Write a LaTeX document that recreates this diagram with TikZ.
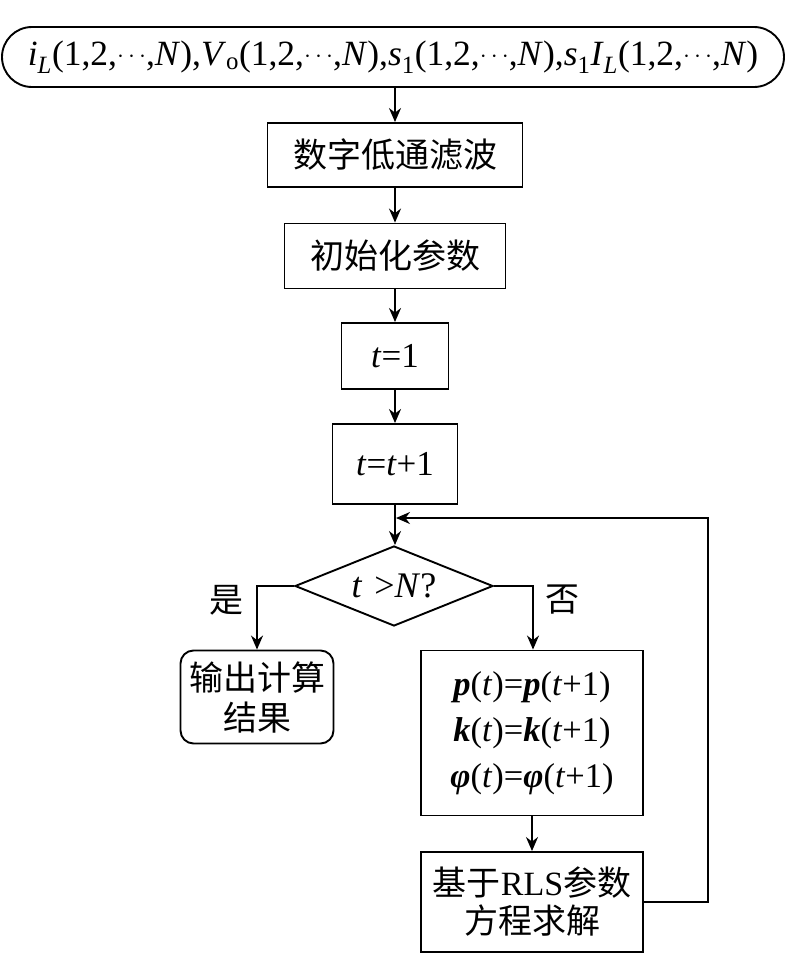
\documentclass[tikz,border=0pt]{standalone}
\usepackage{fontspec}
\setmainfont{Liberation Serif}
\newfontfamily\cjk{Noto Sans CJK SC}
\usetikzlibrary{shapes.geometric,arrows.meta}
\tikzset{
  box/.style={draw, line width=1.9pt, rectangle, inner sep=0pt, align=center},
  rbox/.style={box, rounded corners=13pt},
  arr/.style={line width=1.9pt, -{Stealth[length=14pt,width=12pt]}},
  big/.style={font=\fontsize{34}{42}\selectfont},
  lat/.style={font=\fontsize{35}{40}\selectfont},
}
\begin{document}
\begin{tikzpicture}[x=1pt,y=-1pt]
\useasboundingbox (0,0) rectangle (788,954);
\node[box, rounded corners=30pt, minimum width=782pt, minimum height=60pt, font=\fontsize{35.5}{40}\selectfont] (in) at (393,57)
  {\textit{i}\textsubscript{\textit{L}}(1,2,\raisebox{3pt}{$\cdots$},\textit{N}),\textit{V}\textsubscript{o}(1,2,\raisebox{3pt}{$\cdots$},\textit{N}),\textit{s}\textsubscript{1}(1,2,\raisebox{3pt}{$\cdots$},\textit{N}),\textit{s}\textsubscript{1}\textit{I}\textsubscript{\textit{L}}(1,2,\raisebox{3pt}{$\cdots$},\textit{N})};
\node[box, big, minimum width=255pt, minimum height=64pt] (f) at (395,155) {\cjk 数字低通滤波};
\node[box, big, minimum width=221pt, minimum height=65pt] (init) at (395,256) {\cjk 初始化参数};
\node[box, lat, minimum width=107pt, minimum height=66pt] (t1) at (395,356) {\textit{t}=1};
\node[box, lat, minimum width=125pt, minimum height=80pt] (tt) at (395,464) {\textit{t}=\textit{t}+1};
\node[diamond, draw, line width=1.9pt, inner sep=0pt, minimum width=198pt, minimum height=80pt, aspect=2.475] (d) at (394,586) {};
\node[font=\fontsize{36}{40}\selectfont] (dt) at (d.center) {\textit{t}\,\,>\textit{N}?};
\node[rbox, big, minimum width=153pt, minimum height=93pt] (out) at (257,697) {\cjk 输出计算\\[-2pt]\cjk 结果};
\node[box, minimum width=222pt, minimum height=165pt, font=\fontsize{34.5}{46}\selectfont] (p) at (532,733)
  {\textbf{\textit{p}}(\textit{t})=\textbf{\textit{p}}(\textit{t}+1)\\
   \textbf{\textit{k}}(\textit{t})=\textbf{\textit{k}}(\textit{t}+1)\\
   \textbf{\textit{φ}}(\textit{t})=\textbf{\textit{φ}}(\textit{t}+1)};
\node[box, big, minimum width=222pt, minimum height=100pt] (rls) at (532,902) {{\cjk 基于}RLS{\cjk 参数}\\[-4pt]\cjk 方程求解};
\node[big] (yes) at (226,600) {\cjk 是};
\node[big] (no) at (562,600) {\cjk 否};
\coordinate (lc) at (257,586);
\coordinate (rc) at (533,586);
\coordinate (lp1) at (708,902);
\coordinate (lp2) at (708,518);
\coordinate (lp3) at (396,518);
\draw[arr] (in.south -| f.north) -- (f.north);
\draw[arr] (f) -- (init);
\draw[arr] (init) -- (t1);
\draw[arr] (t1) -- (tt);
\draw[arr] (tt.south) -- (tt.south |- d.north);
\draw[arr] (d.west) -- (lc) -- (out.north);
\draw[arr] (d.east) -- (rc) -- (p.north -| rc);
\draw[arr] (p) -- (rls);
\draw[arr] (rls.east) -- (lp1) -- (lp2) -- (lp3);
\end{tikzpicture}
\end{document}
